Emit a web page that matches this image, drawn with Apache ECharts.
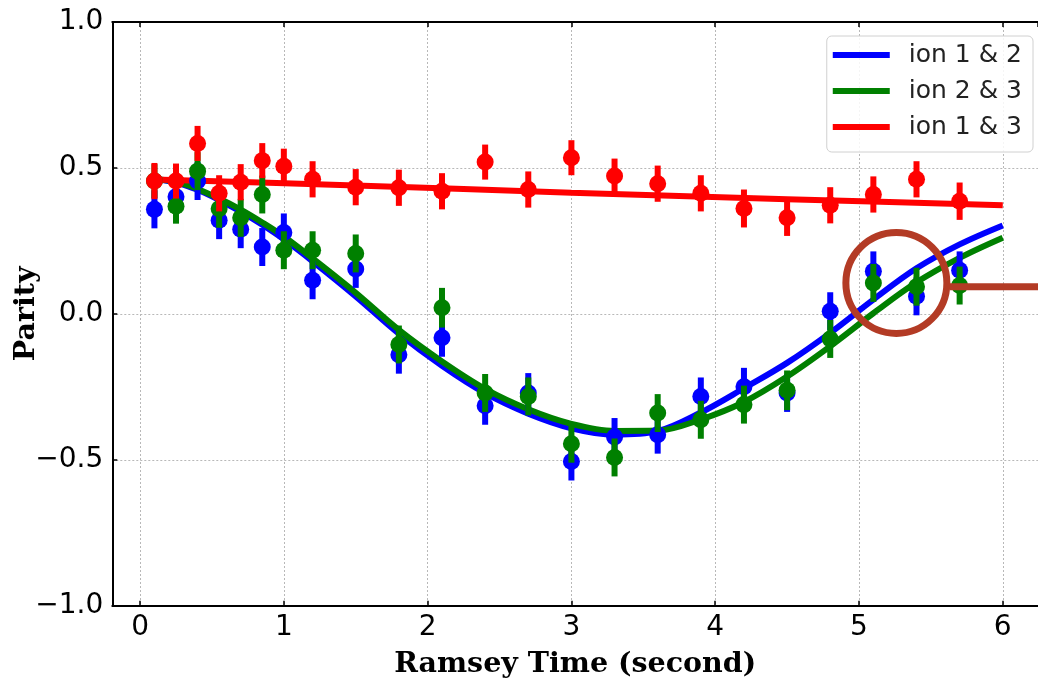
<!DOCTYPE html>
<html>
<head>
<meta charset="utf-8">
<script src="https://cdn.jsdelivr.net/npm/echarts@6/dist/echarts.min.js"></script>
<style>
html,body{margin:0;padding:0;background:#fff;}
#chart{width:1038px;height:679px;}
</style>
</head>
<body>
<div id="chart"></div>
<script>
// ---- data ----
const times = [0.1, 0.25, 0.4, 0.55, 0.7, 0.85, 1.0, 1.2, 1.5, 1.8, 2.1, 2.4, 2.7, 3.0, 3.3, 3.6, 3.9, 4.2, 4.5, 4.8, 5.1, 5.4, 5.7];
const ion12 = [0.358, 0.401, 0.455, 0.321, 0.290, 0.229, 0.279, 0.115, 0.154, -0.140, -0.082, -0.315, -0.271, -0.506, -0.422, -0.414, -0.283, -0.250, -0.271, 0.009, 0.146, 0.060, 0.149];
const ion23 = [0.455, 0.369, 0.489, 0.360, 0.329, 0.409, 0.218, 0.218, 0.207, -0.105, 0.021, -0.271, -0.283, -0.445, -0.492, -0.340, -0.363, -0.311, -0.262, -0.086, 0.106, 0.093, 0.097];
const ion13 = [0.455, 0.455, 0.584, 0.413, 0.451, 0.525, 0.506, 0.461, 0.434, 0.432, 0.420, 0.520, 0.426, 0.535, 0.472, 0.446, 0.413, 0.361, 0.329, 0.372, 0.409, 0.461, 0.386];
const err12 = [0.065, 0.065, 0.065, 0.065, 0.065, 0.065, 0.065, 0.065, 0.065, 0.065, 0.065, 0.065, 0.068, 0.065, 0.065, 0.065, 0.065, 0.065, 0.065, 0.065, 0.068, 0.065, 0.065];
const err23 = [0.058, 0.060, 0.065, 0.065, 0.065, 0.065, 0.065, 0.065, 0.065, 0.065, 0.068, 0.065, 0.065, 0.065, 0.065, 0.065, 0.065, 0.065, 0.068, 0.065, 0.065, 0.065, 0.065];
const err13 = [0.062, 0.060, 0.060, 0.062, 0.062, 0.060, 0.060, 0.062, 0.062, 0.062, 0.062, 0.060, 0.062, 0.060, 0.060, 0.062, 0.062, 0.065, 0.062, 0.062, 0.062, 0.062, 0.064];

const fitTimes = [0.1, 0.25, 0.4, 0.55, 0.7, 0.85, 1.0, 1.2, 1.5, 1.8, 2.1, 2.4, 2.7, 3.0, 3.3, 3.6, 3.9, 4.2, 4.5, 4.8, 5.1, 5.4, 5.7, 6.0];
const fit12 = [0.462, 0.450, 0.425, 0.390, 0.350, 0.305, 0.255, 0.180, 0.060, -0.068, -0.178, -0.272, -0.342, -0.392, -0.414, -0.402, -0.338, -0.255, -0.168, -0.065, 0.049, 0.156, 0.238, 0.303];
const fit23 = [0.462, 0.452, 0.428, 0.395, 0.357, 0.313, 0.265, 0.190, 0.072, -0.055, -0.163, -0.257, -0.327, -0.377, -0.401, -0.400, -0.362, -0.302, -0.215, -0.111, 0.002, 0.108, 0.192, 0.261];
const fit13Times = [0.1, 1.5, 3.0, 4.5, 6.0];
const fit13 = [0.460, 0.440, 0.415, 0.393, 0.372];

const seriesNames = ['ion 1 & 2', 'ion 2 & 3', 'ion 1 & 3'];
const colors = ['#0000ff', '#008000', '#ff0000'];
const xTicks = [0, 1, 2, 3, 4, 5, 6];
const yTicks = [-1.0, -0.5, 0.0, 0.5, 1.0];

// annotation (circle + pointer line)
const annotCircle = [5.26, 0.106];
const annotLine = [[5.633, 0.093], [6.245, 0.093]];

// ---- chart ----
const xMin = -0.193, xMax = 6.245;
const axisLineStyle = {color: '#000', width: 2};
const gridLine = {show: true, lineStyle: {color: '#b8b8b8', type: [2, 2], width: 1}};

function zip(a, b) { return a.map((v, i) => [v, b[i]]); }
function zip3(a, b, c) { return a.map((v, i) => [v, b[i], c[i]]); }

function errSeries(name, col, data, z) {
  return {
    type: 'custom', name: name, z: z, silent: true,
    data: data,
    renderItem: function (params, api) {
      const t = api.value(0), v = api.value(1), e = api.value(2);
      const top = api.coord([t, v + e]);
      const bot = api.coord([t, v - e]);
      const c = api.coord([t, v]);
      return {
        type: 'group',
        children: [
          {type: 'line', shape: {x1: top[0], y1: top[1], x2: bot[0], y2: bot[1]}, style: {stroke: col, lineWidth: 6}},
          {type: 'circle', shape: {cx: c[0], cy: c[1], r: 8.5}, style: {fill: col}}
        ]
      };
    }
  };
}

const chart = echarts.init(document.getElementById('chart'), null, {renderer: 'canvas'});
chart.setOption({
  animation: false,
  backgroundColor: '#fff',
  grid: {left: 112.3, right: 0, top: 22, bottom: 73.3, containLabel: false, outerBoundsMode: 'none'},
  legend: {
    data: seriesNames.map((n, i) => ({name: n, icon: 'rect', itemStyle: {color: colors[i]}})),
    right: 5, top: 36,
    orient: 'vertical',
    itemWidth: 57, itemHeight: 6, itemGap: 8,
    padding: [5, 11, 11, 6],
    backgroundColor: 'rgba(255,255,255,0.85)',
    borderColor: '#d0d0d0', borderWidth: 1, borderRadius: 5,
    textStyle: {fontFamily: 'DejaVu Sans', fontSize: 25, color: '#222', lineHeight: 28, padding: [0, 0, 0, 14]}
  },
  xAxis: [{
    type: 'value', min: xMin, max: xMax, minInterval: 1, maxInterval: 1, position: 'bottom',
    name: 'Ramsey Time (second)', nameLocation: 'middle', nameGap: 44, nameMoveOverlap: false,
    nameTextStyle: {fontFamily: 'DejaVu Serif', fontWeight: 'bold', fontSize: 28.5, color: '#000'},
    axisLine: {show: true, onZero: false, lineStyle: axisLineStyle},
    axisTick: {show: true, inside: true, length: 5, lineStyle: {color: '#000', width: 1.5}},
    axisLabel: {showMinLabel: false, showMaxLabel: false, margin: 8, fontFamily: 'DejaVu Sans', fontSize: 28, color: '#000',
      formatter: v => (xTicks.indexOf(v) >= 0 ? String(v) : '')},
    splitLine: gridLine
  }, {
    type: 'value', min: xMin, max: xMax, minInterval: 1, maxInterval: 1, position: 'top',
    axisLine: {show: true, onZero: false, lineStyle: axisLineStyle},
    axisTick: {show: true, inside: true, length: 5, lineStyle: {color: '#000', width: 1.5}},
    axisLabel: {show: false}, splitLine: {show: false}
  }],
  yAxis: [{
    type: 'value', min: -1, max: 1, interval: 0.5,
    name: 'Parity', nameLocation: 'middle', nameGap: 71, nameRotate: 90, nameMoveOverlap: false,
    nameTextStyle: {fontFamily: 'DejaVu Serif', fontWeight: 'bold', fontSize: 28.5, color: '#000'},
    axisLine: {show: true, onZero: false, lineStyle: axisLineStyle},
    axisTick: {show: true, inside: true, length: 5, lineStyle: {color: '#000', width: 1.5}},
    axisLabel: {margin: 9, fontFamily: 'DejaVu Sans', fontSize: 28, color: '#000',
      formatter: v => {
        const m = yTicks.find(t => Math.abs(t - v) < 1e-9);
        return m === undefined ? '' : m.toFixed(1).replace('-', '\u2212');
      }},
    splitLine: gridLine
  }],
  series: [
    {type: 'line', name: seriesNames[0], data: zip(fitTimes, fit12), smooth: 0.35, showSymbol: false, z: 2,
      lineStyle: {color: colors[0], width: 6}, itemStyle: {color: colors[0]}},
    {type: 'line', name: seriesNames[1], data: zip(fitTimes, fit23), smooth: 0.35, showSymbol: false, z: 2,
      lineStyle: {color: colors[1], width: 6}, itemStyle: {color: colors[1]}},
    {type: 'line', name: seriesNames[2], data: zip(fit13Times, fit13), smooth: 0.3, showSymbol: false, z: 2,
      lineStyle: {color: colors[2], width: 6}, itemStyle: {color: colors[2]}},
    errSeries('pts12', colors[0], zip3(times, ion12, err12), 3),
    errSeries('pts23', colors[1], zip3(times, ion23, err23), 4),
    errSeries('pts13', colors[2], zip3(times, ion13, err13), 5),
    {type: 'scatter', name: 'annot', data: [annotCircle], symbol: 'circle', symbolSize: 101, z: 6, silent: true,
      itemStyle: {color: 'rgba(0,0,0,0)', borderColor: '#b33b25', borderWidth: 7, opacity: 1}},
    {type: 'line', name: 'annotLine', data: annotLine, showSymbol: false, z: 6, silent: true, clip: false,
      lineStyle: {color: '#b33b25', width: 7}}
  ]
});
</script>
</body>
</html>
